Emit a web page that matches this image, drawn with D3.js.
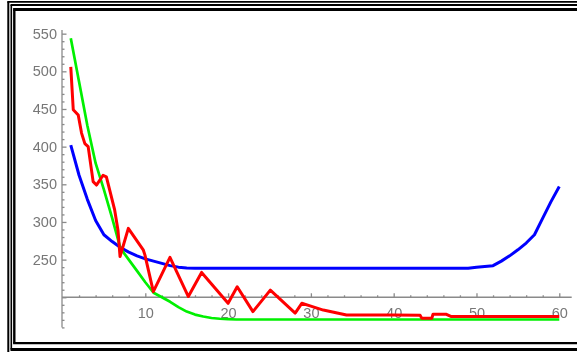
<!DOCTYPE html>
<html>
<head>
<meta charset="utf-8">
<script src="https://cdn.jsdelivr.net/npm/d3@7"></script>
<style>
  html, body { margin: 0; padding: 0; background: #fff; }
  svg { display: block; }
</style>
</head>
<body>
<svg id="chart" width="577" height="352"></svg>
<script>
// Iteration index (x) for the blue and green series
const steps = d3.range(1, 61);

// Blue series
const blueValues = [402, 362, 330, 302, 283, 274, 266, 260, 255, 251,
  248, 245, 242, 240, 239, 238.5, 238.5, 238.5, 238.5, 238.5,
  238.5, 238.5, 238.5, 238.5, 238.5, 238.5, 238.5, 238.5, 238.5, 238.5,
  238.5, 238.5, 238.5, 238.5, 238.5, 238.5, 238.5, 238.5, 238.5, 238.5,
  238.5, 238.5, 238.5, 238.5, 238.5, 238.5, 238.5, 238.5, 238.5, 240,
  241, 242, 248, 255, 263, 272, 283, 305, 327, 347];

// Green series
const greenValues = [544, 486, 428, 378, 343, 305, 265, 250, 235, 220,
  206, 200, 194, 187, 181, 177, 174.5, 172.5, 171.5, 171,
  170.5, 170.5, 170.5, 170.5, 170.5, 170.5, 170.5, 170.5, 170.5, 170.5,
  170.5, 170.5, 170.5, 170.5, 170.5, 170.5, 170.5, 170.5, 170.5, 170.5,
  170.5, 170.5, 170.5, 170.5, 170.5, 170.5, 170.5, 170.5, 170.5, 170.5,
  170.5, 170.5, 170.5, 170.5, 170.5, 170.5, 170.5, 170.5, 170.5, 170.5];

// Red series is sampled at its own, uneven positions
const redSteps = [1, 1.3, 1.9, 2.3, 2.7, 3.1, 3.7, 4.1, 4.9, 5.3,
  6.3, 6.7, 6.95, 7.95, 9.75, 9.96, 10.97, 12.98, 15.2, 16.8,
  20.0, 21.1, 23.0, 25.1, 28.1, 28.9, 29.9, 31.5, 34.3, 40,
  43.2, 43.4, 44.6, 44.75, 46.3, 46.9, 60];
const redValues = [506, 449, 442, 418, 404, 400, 353.5, 349, 362, 360,
  316, 289, 254, 291.5, 263, 256, 207.5, 253, 201, 233,
  192, 214, 181, 209.5, 179, 192, 188.5, 183, 176.5, 176.5,
  176, 172, 172, 177.5, 177.5, 174.5, 174.5];

// Tick values
const xMajorTicks = [10, 20, 30, 40, 50, 60];
const xMinorTicks = d3.range(2, 61, 2).filter(v => v % 10 !== 0);
const yMajorTicks = [250, 300, 350, 400, 450, 500, 550];
const yMinorTicks = d3.range(160, 551, 10).filter(v => v % 50 !== 0);

const svg = d3.select("#chart");

// Blur for the soft tick labels
const defs = svg.append("defs");
defs.append("filter").attr("id", "soft")
  .attr("x", "-20%").attr("y", "-20%").attr("width", "140%").attr("height", "140%")
  .append("feGaussianBlur").attr("stdDeviation", 0.6);

// Scales
const x = d3.scaleLinear().domain([0, 61.5]).range([62.5, 571.7]);
const y = d3.scaleLinear().domain([160, 555]).range([327.4, 29.9]);
const axisY = y(200);   // horizontal axis crosses at 200
const axisX = x(0) - 0.5;

// Triple frame, open on the right side
const frame = svg.append("g").attr("stroke", "#000").attr("fill", "none");
[
  { top: 1.8, tw: 1.8, left: 8.3, lw: 2, bottom: 356, bw: 2 },
  { top: 5, tw: 2, left: 11.3, lw: 1.6, bottom: 349.5, bw: 3 },
  { top: 9.5, tw: 3, left: 14.3, lw: 2.4, bottom: 343.2, bw: 2.2 }
].forEach(f => {
  frame.append("line").attr("x1", f.left - f.lw / 2).attr("x2", 577)
    .attr("y1", f.top).attr("y2", f.top).attr("stroke-width", f.tw);
  frame.append("line").attr("x1", f.left).attr("x2", f.left)
    .attr("y1", f.top).attr("y2", f.bottom).attr("stroke-width", f.lw);
  frame.append("line").attr("x1", f.left - f.lw / 2).attr("x2", 577)
    .attr("y1", f.bottom).attr("y2", f.bottom).attr("stroke-width", f.bw);
});

const axisColor = "#8a8a8a";
const labelColor = "#777";

// Vertical axis: minor ticks, then major ticks with labels
const yAxisG = svg.append("g").attr("transform", `translate(${axisX},0)`);
yAxisG.append("g")
  .call(d3.axisLeft(y).tickValues(yMinorTicks).tickSizeInner(-2.5).tickSizeOuter(0).tickFormat(""))
  .call(g => g.select(".domain").remove());
yAxisG.append("g")
  .call(d3.axisLeft(y).tickValues(yMajorTicks.concat([200])).tickSizeInner(-4.5).tickSizeOuter(0)
    .tickPadding(5).tickFormat(d => d === 200 ? "" : d))
  .call(g => g.select(".domain").attr("d", `M0,${y(160)}V${y(555)}`));

// Horizontal axis
const xAxisG = svg.append("g").attr("transform", `translate(0,${axisY})`);
xAxisG.append("g")
  .call(d3.axisBottom(x).tickValues(xMinorTicks).tickSizeInner(-2).tickSizeOuter(0).tickFormat(""))
  .call(g => g.select(".domain").remove());
xAxisG.append("g")
  .call(d3.axisBottom(x).tickValues(xMajorTicks).tickSizeInner(-4).tickSizeOuter(0).tickPadding(10))
  .call(g => g.select(".domain").attr("d", `M${axisX},0H${x(61.5)}`));

svg.selectAll(".domain, .tick line").attr("stroke", axisColor).attr("stroke-width", 1.3);
svg.selectAll(".tick text")
  .attr("fill", labelColor)
  .attr("font-family", "Liberation Sans, Arial, sans-serif")
  .attr("font-size", 14.5)
  .attr("filter", "url(#soft)");

// Series lines
const series = [
  { xs: steps, values: blueValues, color: "#0000ff", width: 3 },
  { xs: steps, values: greenValues, color: "#00f000", width: 2.7 },
  { xs: redSteps, values: redValues, color: "#ff0000", width: 3 }
];
series.forEach(s => {
  const line = d3.line().x((d, i) => x(s.xs[i])).y(d => y(d));
  svg.append("path").datum(s.values)
    .attr("d", line)
    .attr("fill", "none")
    .attr("stroke", s.color)
    .attr("stroke-width", s.width)
    .attr("stroke-linejoin", "round");
});
</script>
</body>
</html>
